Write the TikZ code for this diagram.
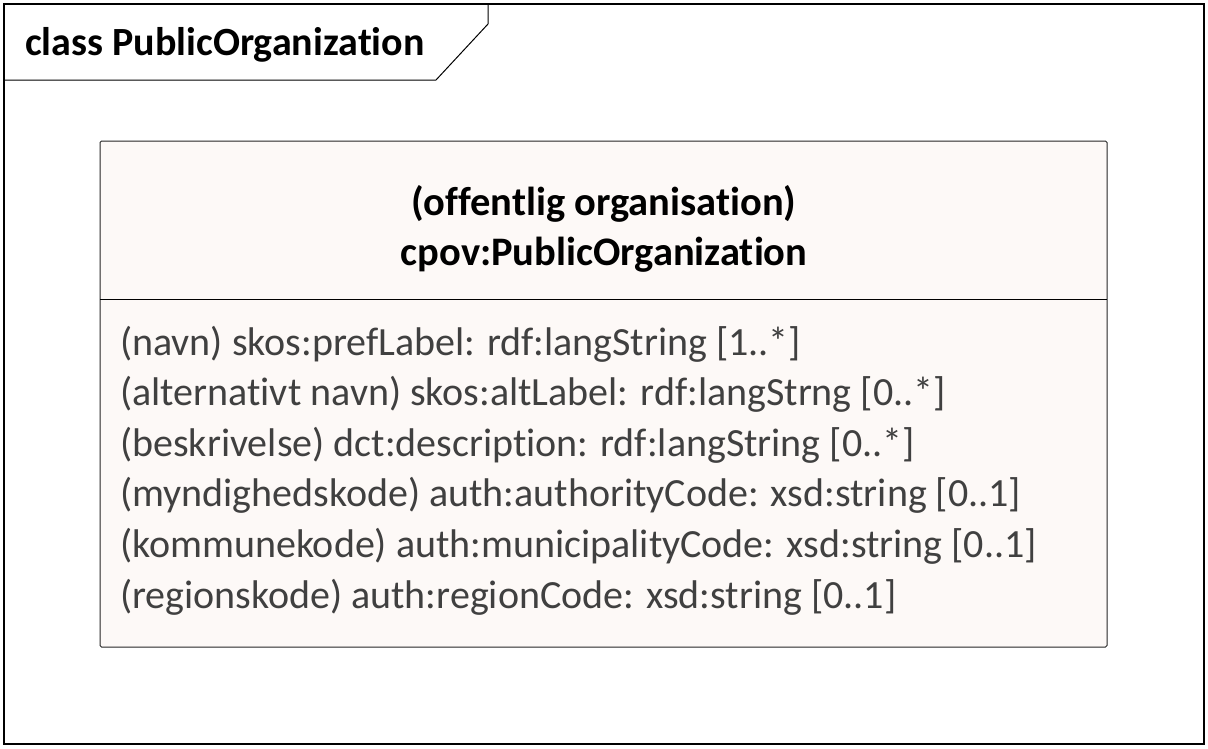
\documentclass[tikz,border=0pt]{standalone}
\usepackage{fontspec}
\setmainfont{Carlito}[Ligatures=NoCommon]
\usepackage{tikz}
\usetikzlibrary{positioning}
\definecolor{boxfill}{HTML}{FDF9F7}
\definecolor{attrgray}{HTML}{404040}

\begin{document}
\begin{tikzpicture}[x=1pt,y=-1pt,
  titletext/.style={anchor=base west,inner sep=0pt,font=\fontsize{40}{48}\selectfont\bfseries},
  headtext/.style={anchor=base,inner sep=0pt,font=\fontsize{40.5}{48}\selectfont\bfseries},
  attrtext/.style={anchor=base west,inner sep=0pt,font=\fontsize{40}{48}\selectfont,text=attrgray}]
\useasboundingbox (0,0) rectangle (1208,748);
% Frame with name tab
\draw[line width=1.1pt] (4,4) rectangle (1204,744);
\draw[line width=1pt] (4,80) -- (436,80) -- (488,24) -- (488,4);
\node[titletext] (frametitle) at (25,55) {class PublicOrganization};
% Class box
\draw[fill=boxfill, draw=black!85, line width=1pt, rounded corners=1.5pt] (100,141) rectangle (1107,647);
\draw[line width=1pt] (100,299) -- (1107,299);
\node[headtext] (danishname) at (604,215) {(offentlig organisation)};
\node[headtext] (classname) at (604,265) {cpov:PublicOrganization};
% Attributes
\node[attrtext] (attr1) at (120,355) {(navn) skos:prefLabel: rdf:langString [1..*]};
\node[attrtext] (attr2) at (120,405.6) {(alternativt navn) skos:altLabel: rdf:langStrng [0..*]};
\node[attrtext] (attr3) at (120,456.2) {(beskrivelse) dct:description: rdf:langString [0..*]};
\node[attrtext] (attr4) at (120,506.8) {(myndighedskode) auth:authorityCode: xsd:string [0..1]};
\node[attrtext] (attr5) at (120,557.4) {(kommunekode) auth:municipalityCode: xsd:string [0..1]};
\node[attrtext] (attr6) at (120,608) {(regionskode) auth:regionCode: xsd:string [0..1]};
\end{tikzpicture}
\end{document}
